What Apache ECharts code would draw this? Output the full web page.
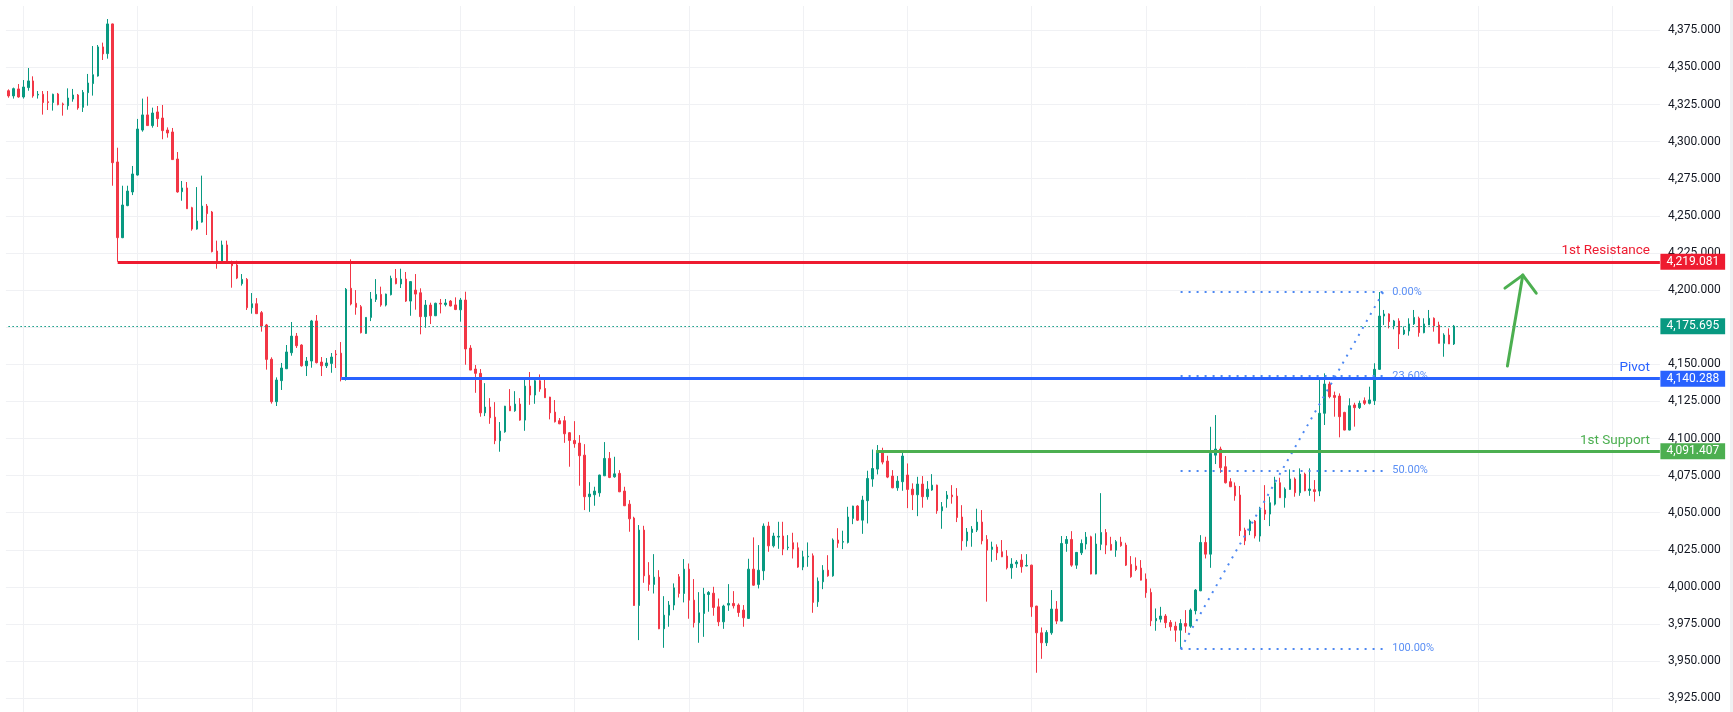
<!DOCTYPE html>
<html><head><meta charset="utf-8">
<script src="https://cdn.jsdelivr.net/npm/echarts@6/dist/echarts.min.js"></script>
<style>html,body{margin:0;padding:0;background:#fff;overflow:hidden;width:1733px;height:712px;position:relative}
#c{position:absolute;left:0;top:-7px;width:1733px;height:750px}</style>
</head><body><div id="c"></div>
<script>
// ---- DATA ----
const opens=[
4334.3,4330.8,4335.5,4330.1,4336.4,4340.9,4331.4,4331.9,4326.9,4326.3,
4332.1,4325.4,4324.2,4328.7,4331.4,4323.1,4333.0,4339.1,4344.2,4363.8,
4359.3,4379.3,4286.3,4235.3,4256.9,4266.1,4277.5,4307.8,4318.0,4310.8,
4320.0,4315.9,4307.8,4306.5,4288.3,4266.3,4268.8,4255.5,4241.1,4245.8,
4256.6,4252.6,4226.3,4218.9,4230.4,4218.7,4216.9,4204.3,4207.2,4188.1,
4190.8,4184.8,4176.5,4153.4,4124.8,4139.0,4147.0,4157.8,4169.0,4163.0,
4149.0,4152.2,4179.2,4151.5,4149.0,4150.6,4156.9,4157.5,4139.9,4201.2,
4191.1,4188.8,4170.8,4181.6,4193.7,4197.1,4189.9,4196.9,4207.9,4204.1,
4207.4,4192.6,4200.0,4198.2,4182.1,4189.9,4182.7,4191.1,4190.2,4192.6,
4190.0,4186.7,4193.3,4160.9,4146.8,4143.9,4117.3,4121.2,4114.4,4098.5,
4104.5,4121.8,4118.7,4123.2,4112.4,4135.3,4129.3,4138.9,4133.7,4127.9,
4117.8,4112.0,4112.0,4103.9,4098.7,4096.9,4088.8,4060.8,4062.1,4063.4,
4074.9,4086.6,4074.2,4076.5,4064.6,4055.8,4046.4,3987.5,4038.3,4007.9,
4001.7,4006.6,3971.8,3981.0,3987.8,4006.9,3995.6,4012.0,3991.1,3975.9,
3982.1,3994.9,3995.8,3986.6,3976.5,3987.8,3988.9,3987.8,3984.4,3978.8,
4012.0,4001.7,4010.9,4041.0,4027.7,4033.6,4034.3,4026.4,4029.8,4026.4,
4013.4,4020.3,4021.0,3990.0,4003.5,4011.3,4007.5,4031.6,4030.2,4030.0,
4046.2,4054.5,4045.0,4058.1,4072.7,4079.4,4090.4,4084.8,4074.7,4066.8,
4070.9,4075.4,4065.9,4062.1,4069.3,4060.8,4065.3,4068.6,4051.3,4059.4,
4061.9,4061.2,4047.1,4031.1,4036.7,4038.3,4043.7,4032.0,4025.3,4026.9,
4023.7,4020.8,4012.9,4015.6,4018.1,4014.1,4014.7,3987.1,3969.1,3962.4,
3969.1,3985.1,3977.0,4029.3,4032.0,4014.7,4023.0,4028.9,4033.8,4008.7,
4028.7,4036.7,4028.7,4024.8,4030.2,4028.2,4015.2,4014.1,4012.7,4005.3,
3996.3,3977.2,3978.3,3980.4,3976.1,3973.6,3970.9,3975.4,3973.6,3984.0,
3997.4,4030.0,4022.1,4088.8,4092.9,4081.0,4070.9,4068.0,4061.9,4038.3,
4037.9,4044.4,4034.3,4051.8,4049.1,4055.8,4070.2,4060.1,4065.7,4072.7,
4063.5,4076.0,4065.0,4065.5,4064.6,4117.0,4136.7,4129.0,4128.6,4117.6,
4105.7,4122.6,4120.8,4125.5,4123.7,4125.5,4146.6,4182.5,4183.9,4175.8,
4179.2,4170.4,4172.4,4177.2,4181.0,4171.3,4176.5,4181.0,4176.5,4164.1,
4169.7,4163.7];
const closes=[
4330.8,4335.7,4330.1,4336.8,4340.9,4330.8,4331.9,4326.3,4326.3,4331.9,
4324.9,4324.9,4329.4,4331.4,4322.7,4333.2,4339.5,4345.1,4363.8,4359.1,
4379.3,4285.8,4235.3,4257.3,4266.7,4278.2,4308.5,4318.0,4310.8,4319.3,
4315.5,4307.4,4305.8,4287.9,4266.1,4268.8,4254.8,4241.1,4246.5,4256.6,
4251.5,4225.9,4218.7,4230.4,4218.7,4216.4,4208.1,4207.2,4188.1,4190.8,
4184.1,4175.8,4153.3,4124.8,4139.4,4147.5,4158.3,4169.0,4162.5,4149.0,
4152.2,4179.2,4151.1,4149.0,4150.9,4154.9,4156.5,4141.5,4200.5,4190.6,
4188.4,4171.3,4181.6,4194.0,4197.1,4189.9,4197.3,4207.9,4204.3,4207.4,
4192.6,4205.7,4197.3,4182.1,4189.9,4182.7,4191.1,4190.6,4191.3,4189.3,
4186.9,4193.3,4160.3,4146.1,4143.9,4117.3,4121.2,4114.0,4098.5,4105.0,
4121.8,4118.7,4123.2,4112.4,4135.3,4129.3,4138.9,4133.3,4127.5,4117.3,
4111.3,4109.9,4103.2,4098.7,4096.5,4088.4,4060.8,4062.6,4064.6,4075.4,
4086.6,4073.8,4076.2,4064.1,4054.7,4045.9,3987.5,4038.3,4007.5,4001.7,
4006.6,3971.8,3981.0,3987.8,3999.4,3995.6,4012.0,3991.1,3975.9,3982.6,
3995.2,3996.3,3986.2,3976.5,3987.1,3988.9,3987.3,3982.8,3979.2,4012.0,
4001.2,4011.3,4041.0,4027.7,4034.3,4034.1,4025.5,4026.8,4025.5,4013.4,
4020.3,4020.7,3989.6,4003.9,4011.3,4007.5,4031.6,4029.5,4030.6,4047.1,
4054.5,4045.0,4058.5,4073.1,4079.8,4091.1,4084.1,4074.0,4066.8,4071.3,
4088.2,4065.7,4062.1,4069.3,4060.8,4065.9,4068.6,4051.3,4054.0,4061.9,
4060.8,4046.8,4031.1,4037.0,4039.0,4043.7,4031.1,4024.8,4026.9,4023.0,
4020.3,4012.9,4015.4,4016.8,4013.6,4014.5,3986.6,3969.1,3962.4,3969.4,
3985.1,3977.0,4029.3,4032.0,4014.7,4023.3,4029.3,4033.6,4008.7,4028.9,
4036.7,4028.2,4024.8,4030.5,4027.8,4014.7,4006.9,4011.8,4004.6,3996.1,
3977.2,3978.8,3980.4,3975.9,3973.2,3970.9,3975.4,3973.6,3984.4,3997.9,
4030.0,4022.1,4090.0,4092.9,4080.3,4070.2,4067.5,4061.4,4037.9,4031.1,
4044.4,4034.3,4052.5,4049.1,4056.7,4070.2,4060.1,4065.9,4072.7,4063.5,
4076.0,4064.8,4066.0,4064.3,4117.0,4136.7,4128.2,4127.7,4114.7,4105.7,
4122.1,4120.8,4123.7,4123.7,4126.0,4146.6,4182.5,4183.9,4178.7,4179.2,
4170.4,4173.1,4177.2,4181.6,4171.3,4177.2,4181.0,4175.8,4164.1,4169.7,
4163.7,4175.695];
const lows=[
4329.6,4329.0,4329.6,4329.0,4334.3,4329.6,4329.0,4318.2,4321.3,4320.9,
4324.5,4317.5,4321.5,4326.9,4321.5,4320.0,4324.2,4331.0,4343.8,4355.0,
4355.9,4270.3,4219.1,4235.0,4256.5,4264.0,4277.1,4306.7,4310.8,4309.4,
4309.9,4301.6,4302.7,4287.9,4265.6,4260.2,4254.8,4240.0,4240.7,4245.4,
4237.1,4225.4,4214.4,4218.9,4218.2,4201.6,4207.4,4203.0,4186.6,4184.1,
4184.1,4172.0,4146.4,4123.5,4121.9,4132.7,4146.8,4155.8,4161.0,4148.4,
4142.1,4147.7,4150.6,4142.1,4147.5,4144.3,4147.5,4138.5,4139.0,4189.7,
4183.4,4170.8,4170.5,4179.1,4192.0,4188.8,4189.0,4196.4,4203.9,4201.4,
4192.0,4182.7,4186.8,4170.2,4174.6,4177.1,4182.5,4184.3,4189.0,4189.0,
4186.5,4178.7,4149.7,4146.1,4130.8,4114.7,4115.1,4109.9,4096.2,4091.1,
4103.9,4118.5,4118.0,4112.0,4105.2,4122.7,4123.4,4131.5,4127.3,4112.9,
4110.8,4109.7,4097.1,4081.0,4093.8,4068.2,4051.8,4050.6,4054.7,4060.8,
4074.7,4073.3,4073.6,4063.9,4054.5,4037.2,3987.3,3964.2,4002.8,3997.4,
3995.6,3971.6,3959.0,3973.2,3984.4,3992.9,3989.6,3978.6,3972.7,3962.4,
3966.4,3983.3,3980.6,3973.6,3971.8,3983.9,3985.5,3979.9,3973.2,3978.5,
4000.8,3999.0,4004.6,4023.7,4026.6,4025.7,4021.4,4024.8,4019.2,4012.9,
4011.3,4013.6,3982.6,3986.6,3998.5,4006.9,4006.9,4026.4,4025.5,4029.3,
4042.3,4044.4,4035.8,4042.8,4067.5,4075.8,4082.6,4073.3,4066.5,4064.8,
4064.8,4053.1,4051.8,4047.7,4053.4,4058.8,4064.8,4049.3,4039.2,4053.4,
4056.1,4043.7,4024.6,4027.1,4027.1,4037.0,4028.7,3990.1,4017.0,4018.1,
4020.1,4011.8,4005.5,4012.9,4009.6,4013.9,3979.9,3942.2,3951.6,3960.2,
3967.8,3975.0,3976.8,4023.7,4013.6,4012.2,4021.5,4025.3,4008.5,4008.5,
4024.8,4022.1,4024.6,4020.3,4027.1,4014.1,4006.2,4010.7,4004.4,3992.7,
3973.6,3970.5,3976.1,3972.3,3970.5,3963.1,3958.4,3969.1,3972.5,3981.5,
3997.2,4019.2,4012.9,4082.8,4076.9,4069.7,4067.3,4058.1,4034.3,4028.2,
4034.9,4032.7,4030.5,4045.1,4041.0,4054.9,4060.0,4053.4,4065.5,4060.8,
4061.4,4064.5,4061.4,4057.5,4061.2,4109.1,4127.1,4114.7,4100.8,4105.5,
4105.5,4108.0,4119.9,4122.6,4123.0,4122.6,4146.2,4176.5,4174.2,4173.6,
4160.3,4169.7,4169.3,4176.5,4168.6,4170.9,4176.5,4172.0,4164.1,4155.1,
4163.7,4163.0];
const highs=[
4335.2,4336.4,4338.8,4341.5,4349.6,4344.0,4334.1,4334.1,4334.1,4332.3,
4332.8,4326.3,4335.9,4335.5,4332.1,4334.8,4345.6,4364.4,4365.1,4366.7,
4382.6,4379.5,4295.9,4270.3,4270.3,4283.6,4315.3,4329.0,4330.3,4322.9,
4324.0,4324.7,4309.6,4309.2,4293.0,4273.5,4272.8,4256.1,4269.4,4277.1,
4258.0,4253.3,4233.3,4233.3,4233.3,4219.8,4219.8,4210.8,4208.1,4198.0,
4194.6,4185.9,4177.2,4154.7,4141.2,4150.9,4163.0,4178.5,4171.1,4163.5,
4154.9,4179.9,4183.2,4154.9,4154.2,4157.6,4159.6,4165.0,4201.4,4220.7,
4200.0,4189.9,4181.8,4198.7,4207.4,4202.3,4197.6,4209.7,4214.2,4214.4,
4212.2,4205.9,4210.8,4201.2,4193.3,4191.5,4191.5,4194.0,4194.0,4193.3,
4195.1,4194.7,4198.9,4162.9,4149.5,4146.8,4137.3,4127.2,4124.5,4111.1,
4122.0,4133.3,4131.9,4127.2,4139.4,4144.8,4141.2,4143.2,4139.8,4128.1,
4125.9,4113.8,4115.1,4104.3,4111.7,4102.3,4096.2,4070.6,4067.5,4075.6,
4097.6,4090.9,4087.7,4078.7,4067.5,4058.5,4047.3,4041.7,4041.2,4016.7,
4022.1,4011.3,3993.8,3990.5,4002.4,4008.7,4018.8,4015.8,4005.3,3996.5,
3999.4,3997.2,4000.1,3992.2,3988.0,4001.9,3997.2,3988.9,3987.8,4019.0,
4033.4,4028.2,4042.8,4043.9,4036.5,4043.9,4043.9,4034.9,4036.5,4030.0,
4024.4,4030.0,4022.6,4006.4,4014.7,4021.4,4032.7,4039.6,4037.9,4054.0,
4054.7,4055.1,4061.4,4078.3,4092.6,4095.6,4093.8,4088.4,4078.7,4074.7,
4091.1,4083.2,4069.8,4074.2,4074.7,4071.3,4076.0,4068.9,4057.2,4064.6,
4068.6,4066.6,4055.1,4039.7,4041.0,4052.7,4051.8,4034.9,4030.5,4028.7,
4031.6,4024.8,4019.4,4018.1,4022.1,4022.1,4015.0,3987.3,3972.7,3970.9,
3997.9,3990.5,4034.3,4034.3,4037.6,4023.5,4032.0,4037.0,4034.5,4036.1,
4063.2,4039.0,4033.8,4031.6,4033.8,4029.8,4020.8,4019.9,4018.1,4009.1,
3999.0,3985.5,3986.6,3981.7,3977.7,3976.6,3978.3,3984.4,3985.5,3998.6,
4034.9,4033.8,4107.9,4115.8,4094.5,4088.2,4073.3,4070.4,4068.0,4039.9,
4045.5,4045.1,4054.0,4068.6,4060.8,4074.2,4073.6,4067.1,4079.2,4073.8,
4079.9,4077.0,4079.9,4072.0,4139.9,4143.9,4138.3,4131.6,4130.4,4118.0,
4127.1,4124.1,4125.5,4127.7,4134.9,4150.7,4198.7,4186.6,4184.3,4179.9,
4181.0,4175.4,4181.0,4186.6,4182.1,4181.0,4186.6,4181.6,4178.7,4170.9,
4174.2,4176.5];

// total slots on the time axis (candles + empty space on the right)
const slotCount = 333;
const categories = Array.from({length: slotCount}, (_, i) => 'b' + i);
// time-grid (session) lines, by bar index
const timeGridIdx = [3,26,49,66,91,114,137,160,181,206,229,252,275,296,323];
// horizontal levels: name, price, starting bar
const levelNames = ['1st Resistance','Pivot','1st Support'];
const levelValues = [4219.081, 4140.288, 4091.407];
const levelStart = [22, 67, 174.7];
const lastPrice = 4175.695;
// fibonacci retracement: anchors (bar index, price) and levels
const fibLowPt = [236, 3958.4];
const fibHighPt = [276.8, 4198.7];
const fibLevels = [0, 0.236, 0.5, 1];
const fibLabels = ['0.00%','23.60%','50.00%','100.00%'];
// hand drawn arrow (bar index, price)
const arrowShaft = [[301.8, 4148.8],[304.9, 4210.1]];
const arrowHead = [[301.3, 4201.3],[304.9, 4210.1],[307.6, 4197.9]];
// y axis range
const yMin = 3900, yMax = 4400, yStep = 25;
const gridTopPrice = 4391.4;

// ---- STYLE ----
const UP = '#089981', DOWN = '#f23645';
const levelColors = ['#ee1b30', '#2962ff', '#4caf50'];
const FIB = '#4d88f2', FIBTXT = '#5b8ff5';
const FONT = 'Roboto, "Noto Sans", sans-serif';
const fmt = v => Number(v).toLocaleString('en-US', {minimumFractionDigits: 3, maximumFractionDigits: 3});
const xEnd = slotCount - 0.5;

const candleData = opens.map((o, i) => [o, closes[i], lows[i], highs[i]]);

const vLines = timeGridIdx.map(ix => [{coord: [ix, gridTopPrice]}, {coord: [ix, yMin]}]);

const levelLines = [];
levelValues.forEach((v, k) => {
  levelLines.push([
    {coord: [levelStart[k], v], lineStyle: {color: levelColors[k], width: 3, type: 'solid'},
     label: {show: true, position: 'insideEndTop', formatter: levelNames[k], color: levelColors[k],
             fontSize: 13.5, fontFamily: FONT, distance: [10, 4]}},
    {coord: [xEnd, v]}
  ]);
});
levelLines.push([
  {coord: [0, lastPrice], lineStyle: {color: UP, width: 1, type: [1.5, 2.5]}, label: {show: false}},
  {coord: [xEnd, lastPrice]}
]);
const tagVals = levelValues.concat([lastPrice]);
const tagCols = levelColors.concat([UP]);
const tagPoints = tagVals.map((v, k) => ({
  coord: [xEnd, v], symbol: 'rect', symbolSize: [1, 1], itemStyle: {color: 'rgba(0,0,0,0)'},
  label: {show: true, position: 'right', distance: 0, formatter: fmt(v), backgroundColor: tagCols[k],
          color: '#ffffff', fontSize: 12, fontFamily: FONT, padding: [2, 6, 1, 6], lineHeight: 13}
}));
const fr = fibHighPt[1] - fibLowPt[1];
const fibLines = fibLevels.map((lv, k) => {
  const v = fibHighPt[1] - fr * lv;
  return [
    {coord: [fibLowPt[0], v], lineStyle: {color: FIB, width: 2, type: [2, 6]},
     label: {show: true, position: 'end', formatter: fibLabels[k], color: FIBTXT, fontSize: 11, fontFamily: FONT, distance: 9}},
    {coord: [fibHighPt[0], v]}
  ];
});
fibLines.push([
  {coord: fibLowPt, lineStyle: {color: FIB, width: 2, type: [2, 6]}, label: {show: false}},
  {coord: fibHighPt}
]);

const chart = echarts.init(document.getElementById('c'), null, {renderer: 'canvas'});
chart.setOption({
  animation: false,
  backgroundColor: '#ffffff',
  textStyle: {fontFamily: FONT},
  grid: {left: 5.92, right: 73.1, top: 0.2, bottom: 7.6, containLabel: false, outerBoundsMode: 'none'},
  xAxis: [
    {type: 'category', data: categories, boundaryGap: true, axisLine: {show: false}, axisTick: {show: false},
     axisLabel: {show: false}, splitLine: {show: false}},
    {type: 'value', min: -0.5, max: xEnd, show: false, splitLine: {show: false}}
  ],
  yAxis: {
    type: 'value', position: 'right', min: yMin, max: yMax, interval: yStep,
    axisLine: {show: false}, axisTick: {show: false},
    splitLine: {lineStyle: {color: '#f0f1f4', width: 1}},
    axisLabel: {formatter: fmt, color: '#131722', fontSize: 12, fontFamily: FONT, margin: 8, align: 'left'}
  },
  graphic: [{type: 'rect', right: 0, top: 7, shape: {width: 3, height: 712}, style: {fill: '#f0f0f2'}, silent: true}],
  series: [
    {type: 'line', xAxisIndex: 1, data: [], z: 1, silent: true,
     markLine: {z: 1, silent: true, symbol: ['none', 'none'], animation: false,
                lineStyle: {color: '#f0f1f4', width: 1, type: 'solid'}, label: {show: false}, data: vLines}},
    {type: 'candlestick', xAxisIndex: 0, data: candleData, barWidth: 2, z: 2,
     itemStyle: {color: UP, color0: DOWN, borderColor: UP, borderColor0: DOWN, borderWidth: 1}},
    {type: 'line', xAxisIndex: 1, data: [], z: 4, silent: true,
     markLine: {z: 4, silent: true, symbol: ['none', 'none'], animation: false, data: fibLines}},
    {type: 'line', xAxisIndex: 1, data: [], z: 5, silent: true,
     markLine: {z: 5, silent: true, symbol: ['none', 'none'], animation: false, data: levelLines}},
    {type: 'line', xAxisIndex: 1, data: [], z: 6, silent: true,
     markPoint: {z: 8, silent: true, animation: false, data: tagPoints}},
    {type: 'line', xAxisIndex: 1, data: arrowShaft, z: 7, symbol: 'none', silent: true,
     lineStyle: {color: '#4caf50', width: 3, cap: 'round'}},
    {type: 'line', xAxisIndex: 1, data: arrowHead, z: 7, symbol: 'none', silent: true,
     lineStyle: {color: '#4caf50', width: 3, cap: 'round', join: 'round'}}
  ]
});
</script>
</body></html>
